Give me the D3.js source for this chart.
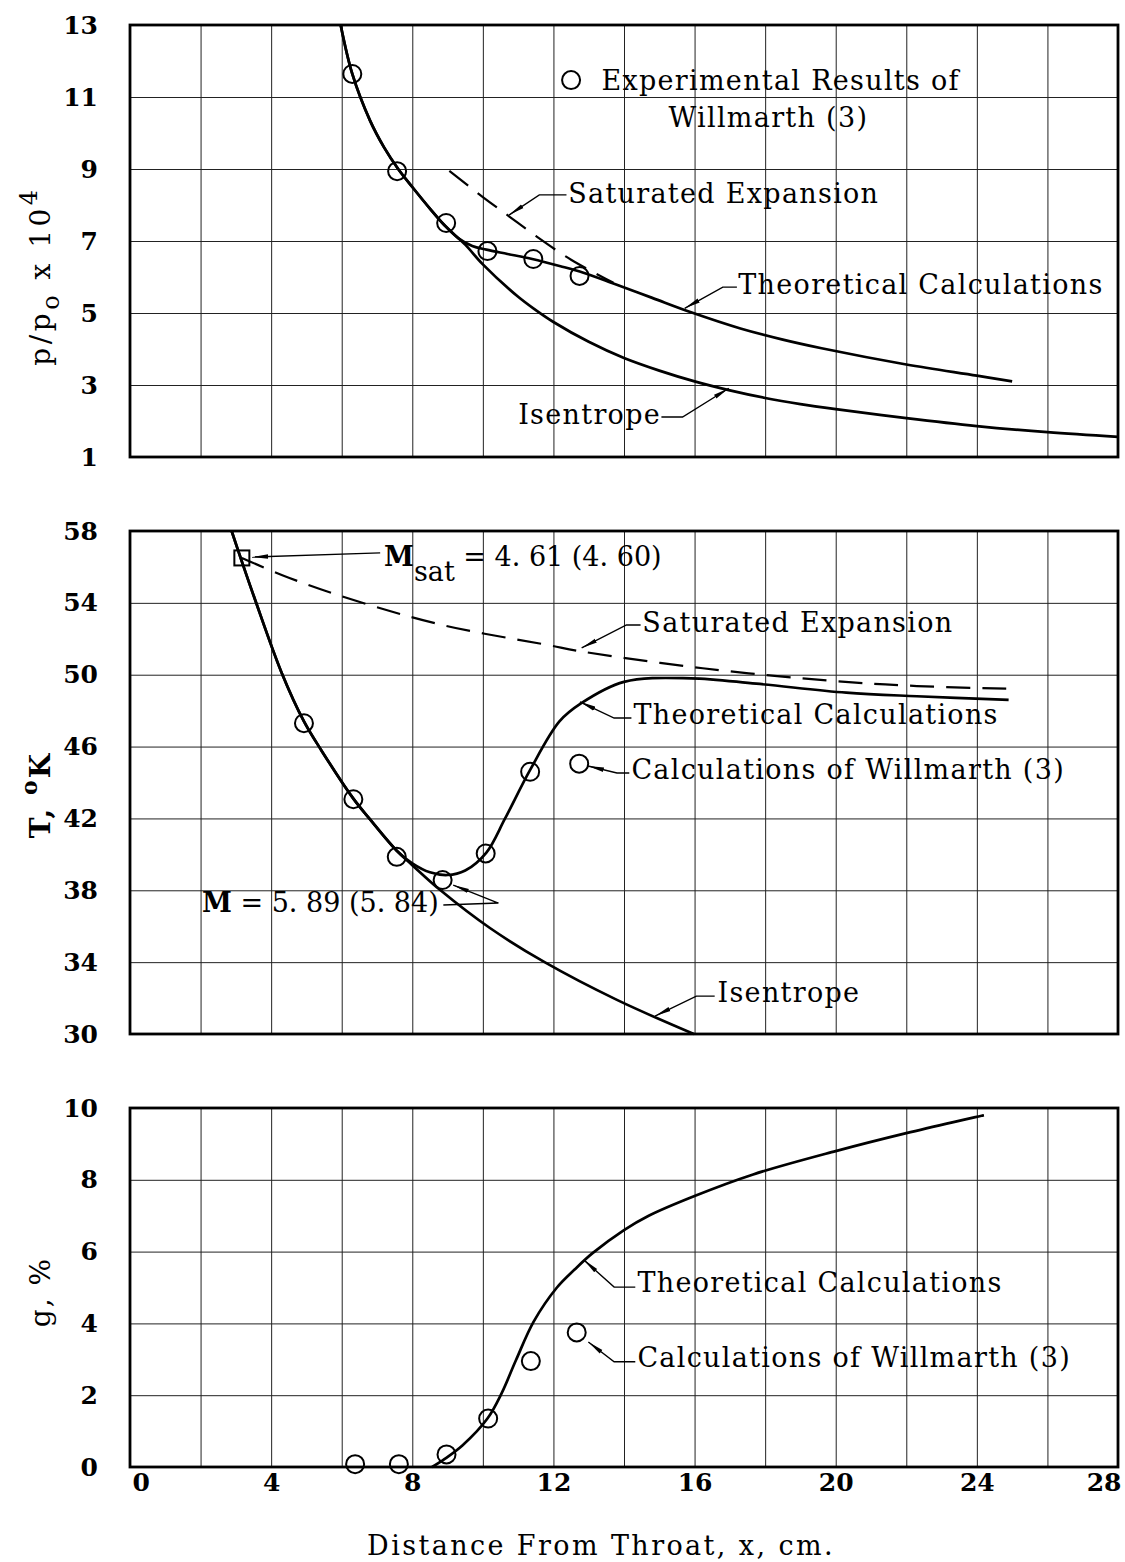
<!DOCTYPE html>
<html lang="en">
<head>
<meta charset="UTF-8">
<title>Condensation in a nozzle: p/po, T and g vs distance from throat</title>
<script src="https://d3js.org/d3.v7.min.js"></script>
<style>
  body { margin: 0; background: #fff; }
  svg { display: block; font-family: "DejaVu Serif", serif; }
  .grid line { stroke: #222; stroke-width: 1; }
  .grid .domain { display: none; }
  .grid .tick text { font-family: "DejaVu Serif", serif; font-size: 25px; font-weight: bold; fill: #000; }
  .frame { fill: none; stroke: #000; stroke-width: 2.8; }
  .curve { fill: none; stroke: #000; stroke-width: 2.7; }
  .dashed { stroke-dasharray: 24 12; stroke-width: 2.2; }
  .pt { fill: none; stroke: #000; stroke-width: 2; }
  .note { font-size: 27px; letter-spacing: 1.3px; fill: #000; }
  .lead { fill: none; stroke: #000; stroke-width: 1.4; }
  .ytitle { font-size: 28px; fill: #000; }
</style>
</head>
<body>
<script>
// ---- panel 1: p/po x 10^4 ----
const pIsenX = [5.97, 6.3, 6.8, 7.2, 7.6, 8.0, 8.5, 8.9, 9.5, 10, 11, 11.5, 12, 13, 14, 15, 16, 17, 18, 19, 20, 22, 24, 26, 28];
const pIsen  = [13, 11.64, 10.35, 9.6, 9.0, 8.5, 7.9, 7.45, 6.9, 6.35, 5.45, 5.08, 4.75, 4.2, 3.75, 3.4, 3.1, 2.85, 2.64, 2.47, 2.33, 2.08, 1.86, 1.69, 1.56];
const pTheoX = [5.97, 6.3, 6.8, 7.2, 7.6, 8.0, 8.5, 8.9, 9.3, 9.7, 10.1, 10.7, 11.4, 12.2, 12.85, 13.7, 14.8, 15.9, 17.3, 18.5, 19.6, 22.0, 24.0, 25.0];
const pTheo  = [13, 11.64, 10.35, 9.6, 9.0, 8.5, 7.9, 7.45, 7.08, 6.86, 6.76, 6.64, 6.5, 6.3, 6.12, 5.82, 5.42, 5.02, 4.57, 4.26, 4.02, 3.57, 3.26, 3.1];
const pSatX  = [9.05, 10.0, 10.75, 11.5, 12.5, 13.7];
const pSat   = [8.95, 8.22, 7.68, 7.14, 6.48, 5.84];
const pExpX  = [6.3, 7.57, 8.96, 10.13, 11.43, 12.74];
const pExp   = [11.64, 8.94, 7.5, 6.72, 6.5, 6.03];

// ---- panel 2: T, K ----
const tIsenX = [2.88, 3.17, 3.54, 4.3, 4.93, 5.42, 6.33, 6.78, 7.56, 8.0, 8.8, 10.2, 11.75, 13.8, 15.98];
const tIsen  = [58, 56.3, 54.2, 50.1, 47.4, 45.8, 43.1, 42, 40.2, 39.4, 38, 35.9, 34, 31.9, 30];
const tTheoX = [2.88, 3.17, 3.54, 4.3, 4.93, 5.42, 6.33, 6.78, 7.56, 8.0, 8.5, 9.0, 9.5, 10.1, 10.63, 11.34, 12.17, 12.78, 14.0, 15.9, 17.75, 20.3, 22.3, 24.9];
const tTheo  = [58, 56.3, 54.2, 50.1, 47.4, 45.8, 43.1, 42, 40.2, 39.5, 39.0, 38.85, 39.1, 40.1, 42.0, 44.7, 47.4, 48.4, 49.6, 49.8, 49.5, 49.0, 48.8, 48.6];
const tSatX  = [3.17, 4.5, 6.38, 8.91, 11.85, 12.78, 16.23, 19.8, 22.3, 24.9];
const tSat   = [56.5, 55.4, 54.13, 52.74, 51.65, 51.3, 50.36, 49.67, 49.37, 49.22];
const tWillX = [4.93, 6.33, 7.56, 8.86, 10.08, 11.34, 12.73];
const tWill  = [47.3, 43.07, 39.86, 38.57, 40.05, 44.6, 45.05];
const tMsat  = [3.17, 56.5];

// ---- panel 3: g, % ----
const gTheoX = [8.56, 8.91, 9.42, 10.13, 10.53, 10.94, 11.44, 12.1, 12.6, 13.1, 14.0, 14.7, 16.0, 17.66, 20.0, 22.0, 24.2];
const gTheo  = [0, 0.22, 0.6, 1.35, 2.05, 2.98, 4.05, 5.0, 5.5, 5.95, 6.6, 7.0, 7.55, 8.15, 8.8, 9.3, 9.8];
const gWillX = [6.38, 7.62, 8.97, 10.15, 11.36, 12.66];
const gWill  = [0.08, 0.08, 0.35, 1.35, 2.95, 3.75];

const xTicks = d3.range(0, 29, 2);
const xLabels = [0, 4, 8, 12, 16, 20, 24, 28];

const W = 1125, H = 1562;
const x0 = 130, x1 = 1118;
const x = d3.scaleLinear().domain([0, 28]).range([x0, x1]);

const svg = d3.select("body").append("svg").attr("width", W).attr("height", H);

svg.append("defs").append("marker")
    .attr("id", "arr").attr("viewBox", "0 -3 16 6")
    .attr("refX", 16).attr("refY", 0)
    .attr("markerWidth", 16).attr("markerHeight", 6)
    .attr("markerUnits", "userSpaceOnUse").attr("orient", "auto")
  .append("path").attr("d", "M0,-2.2L16,0L0,2.2Z").attr("fill", "#000");

const zip = (xs, ys) => xs.map((d, i) => [d, ys[i]]);

function panel(yDom, yRange, yTicks, bottom) {
    const y = d3.scaleLinear().domain(yDom).range(yRange);
    const g = svg.append("g");
    const h = yRange[0] - yRange[1];

    g.append("g").attr("class", "grid")
        .attr("transform", `translate(${x0},0)`)
        .call(d3.axisLeft(y).tickValues(yTicks).tickSize(-(x1 - x0)).tickPadding(32).tickFormat(d3.format("d")));

    const xa = g.append("g").attr("class", "grid")
        .attr("transform", `translate(0,${yRange[0]})`)
        .call(d3.axisBottom(x).tickValues(xTicks).tickSize(-h).tickPadding(6)
            .tickFormat(d => bottom && xLabels.includes(d) ? d : ""));
    if (bottom) {
        xa.selectAll(".tick text").filter(d => d === 0).attr("text-anchor", "start").attr("x", 2);
        xa.selectAll(".tick text").filter(d => d === 28).attr("text-anchor", "end").attr("x", 3);
    }

    g.append("rect").attr("class", "frame")
        .attr("x", x0).attr("y", yRange[1]).attr("width", x1 - x0).attr("height", h);

    const line = d3.line().x(d => x(d[0])).y(d => y(d[1])).curve(d3.curveCatmullRom.alpha(0.5));
    return {g, y, line};
}

function curve(p, pts, dashed) {
    p.g.append("path").attr("class", dashed ? "curve dashed" : "curve").attr("d", p.line(pts));
}
function circles(p, pts) {
    p.g.selectAll(null).data(pts).enter().append("circle").attr("class", "pt")
        .attr("cx", d => x(d[0])).attr("cy", d => p.y(d[1])).attr("r", 9);
}
function note(p, pos, parts, spacing) {
    const t = p.g.append("text").attr("class", "note")
        .attr("x", x(pos[0])).attr("y", p.y(pos[1])).attr("dy", "0.35em");
    if (spacing !== undefined) t.style("letter-spacing", spacing + "px");
    parts.forEach(s => {
        const ts = t.append("tspan").text(s.t);
        if (s.dy) ts.attr("dy", s.dy);
        if (s.size) ts.attr("font-size", s.size);
        if (s.bold) ts.attr("font-weight", "bold");
    });
    return t;
}
function leader(p, pts) {
    p.g.append("path").attr("class", "lead").attr("marker-end", "url(#arr)")
        .attr("d", d3.line().x(d => x(d[0])).y(d => p.y(d[1]))(pts));
}

// ---------- panel 1 ----------
const p1 = panel([1, 13], [457, 25], d3.range(1, 14, 2), false);
curve(p1, zip(pIsenX, pIsen));
curve(p1, zip(pTheoX, pTheo));
curve(p1, zip(pSatX, pSat), true);
circles(p1, zip(pExpX, pExp));
circles(p1, [[12.5, 11.47]]);
note(p1, [13.36, 11.47], [{t: "Experimental Results of"}]);
note(p1, [15.26, 10.42], [{t: "Willmarth (3)"}]);
note(p1, [12.42, 8.33], [{t: "Saturated Expansion"}]);
leader(p1, [[12.37, 8.28], [11.6, 8.28], [10.74, 7.72]]);
note(p1, [17.24, 5.78], [{t: "Theoretical Calculations"}]);
leader(p1, [[17.2, 5.72], [16.8, 5.72], [15.72, 5.13]]);
note(p1, [11.0, 2.17], [{t: "Isentrope"}]);
leader(p1, [[15.06, 2.11], [15.66, 2.11], [16.97, 2.91]]);

svg.append("text").attr("class", "ytitle")
    .attr("transform", "translate(50,276) rotate(-90)").attr("text-anchor", "middle")
    .attr("letter-spacing", 3.5)
    .call(t => {
        t.append("tspan").text("p/p");
        t.append("tspan").text("o").attr("dy", 9).attr("font-size", 24);
        t.append("tspan").text(" x 10").attr("dy", -9);
        t.append("tspan").text("4").attr("dy", -13).attr("font-size", 24);
    });

// ---------- panel 2 ----------
const p2 = panel([30, 58], [1034, 531], d3.range(30, 59, 4), false);
curve(p2, zip(tIsenX, tIsen));
curve(p2, zip(tTheoX, tTheo));
curve(p2, zip(tSatX, tSat), true);
circles(p2, zip(tWillX, tWill));
p2.g.append("rect").attr("class", "pt")
    .attr("x", x(tMsat[0]) - 7.5).attr("y", p2.y(tMsat[1]) - 7.5).attr("width", 15).attr("height", 15);
note(p2, [7.2, 56.55], [{t: "M", bold: true}, {t: "sat", dy: 15}, {t: " = 4. 61 (4. 60)", dy: -15}], 0);
leader(p2, [[7.09, 56.78], [3.46, 56.55]]);
note(p2, [14.52, 52.88], [{t: "Saturated Expansion"}]);
leader(p2, [[14.47, 52.77], [14.07, 52.77], [12.8, 51.49]]);
note(p2, [14.27, 47.81], [{t: "Theoretical Calculations"}]);
leader(p2, [[14.21, 47.59], [13.72, 47.59], [12.75, 48.49]]);
note(p2, [14.21, 44.72], [{t: "Calculations of Willmarth (3)"}]);
leader(p2, [[14.15, 44.53], [13.8, 44.53], [12.98, 44.92]]);
note(p2, [16.65, 32.28], [{t: "Isentrope"}]);
leader(p2, [[16.57, 32.11], [16.05, 32.11], [14.88, 31.0]]);
note(p2, [2.04, 37.29], [{t: "M", bold: true}, {t: " = 5. 89 (5. 84)"}], 0);
leader(p2, [[8.88, 37.18], [10.44, 37.29], [9.16, 38.29]]);

svg.append("text").attr("class", "ytitle").attr("font-weight", "bold")
    .attr("transform", "translate(50,795) rotate(-90)").attr("text-anchor", "middle")
    .attr("letter-spacing", 2)
    .call(t => {
        t.append("tspan").text("T, ");
        t.append("tspan").text("o").attr("dy", -13).attr("font-size", 22);
        t.append("tspan").text("K").attr("dy", 13);
    });

// ---------- panel 3 ----------
const p3 = panel([0, 10], [1467, 1108], d3.range(0, 11, 2), true);
curve(p3, zip(gTheoX, gTheo));
circles(p3, zip(gWillX, gWill));
note(p3, [14.38, 5.13], [{t: "Theoretical Calculations"}]);
leader(p3, [[14.32, 5.01], [13.72, 5.01], [12.86, 5.77]]);
note(p3, [14.38, 3.04], [{t: "Calculations of Willmarth (3)"}]);
leader(p3, [[14.32, 2.93], [13.72, 2.93], [12.99, 3.48]]);

svg.append("text").attr("class", "ytitle")
    .attr("transform", "translate(50,1292) rotate(-90)").attr("text-anchor", "middle")
    .attr("letter-spacing", 2)
    .text("g, %");

svg.append("text").attr("class", "note")
    .attr("x", 601).attr("y", 1555).attr("text-anchor", "middle")
    .style("letter-spacing", "2.4px")
    .text("Distance From Throat, x, cm.");
</script>
</body>
</html>
